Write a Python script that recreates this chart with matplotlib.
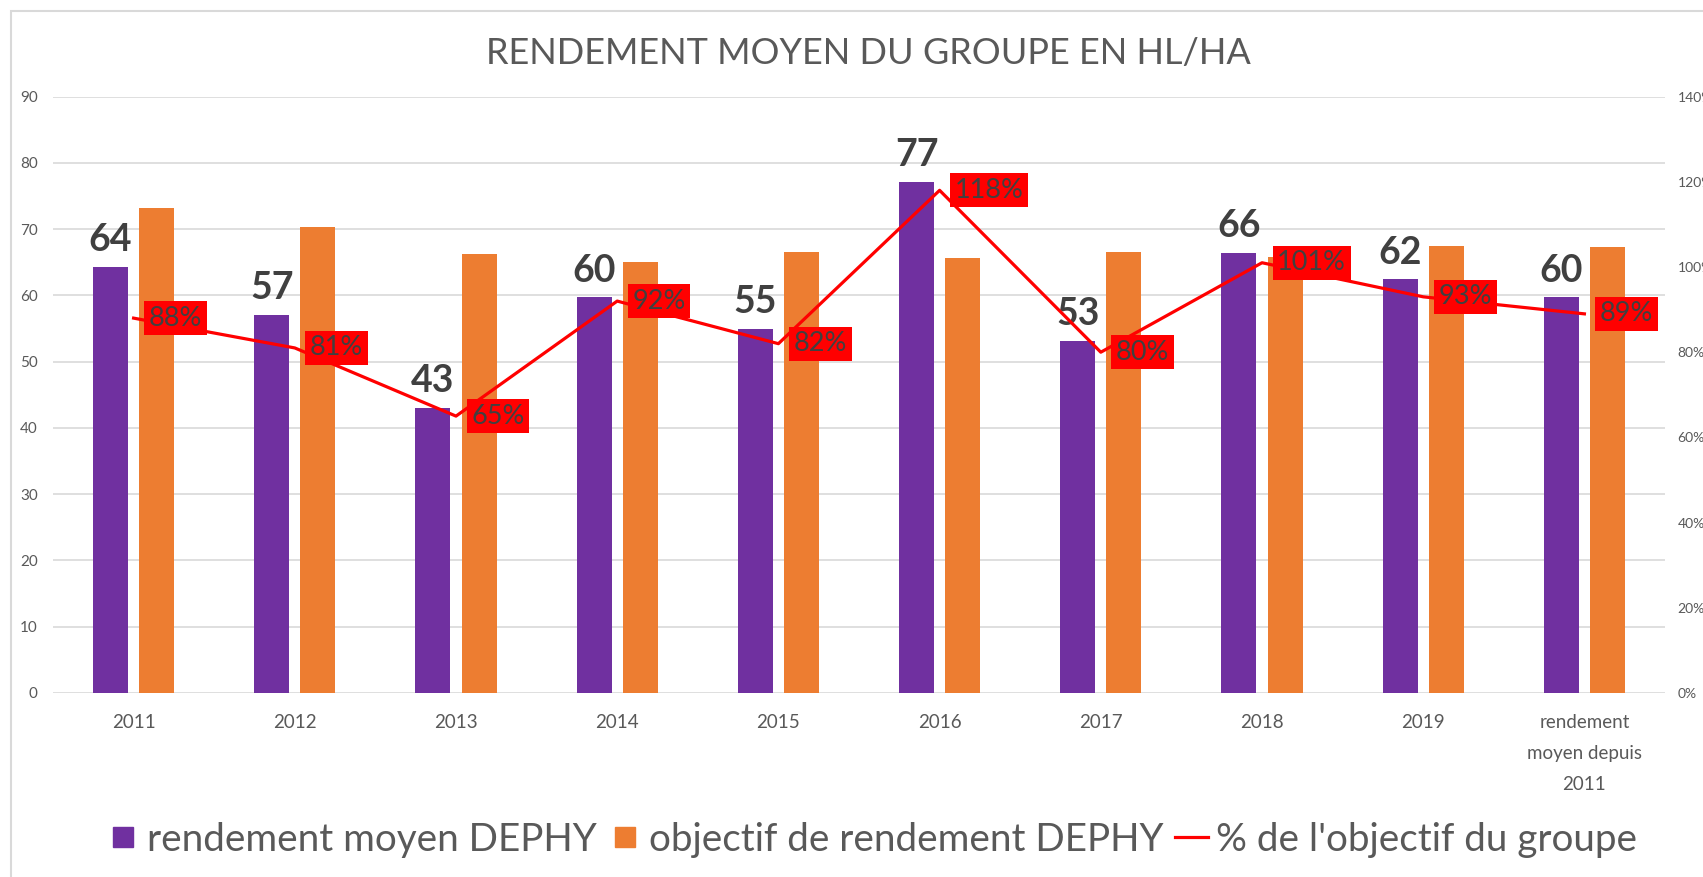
import matplotlib
matplotlib.use('Agg')
import matplotlib.pyplot as plt
from matplotlib.patches import Rectangle
from matplotlib.lines import Line2D
from matplotlib.ticker import PercentFormatter
import numpy as np

# ---- data ----
categories = ['2011', '2012', '2013', '2014', '2015', '2016', '2017', '2018', '2019',
              'rendement\nmoyen depuis\n2011']
rendement = [64.3, 57.1, 43.0, 59.7, 54.9, 77.1, 53.1, 66.4, 62.4, 59.7]
objectif = [73.2, 70.3, 66.2, 65.1, 66.6, 65.6, 66.5, 65.8, 67.4, 67.3]
pct_objectif = [0.88, 0.81, 0.65, 0.92, 0.82, 1.18, 0.80, 1.01, 0.93, 0.89]
left_ticks = list(range(0, 91, 10))
right_ticks = [0, 0.2, 0.4, 0.6, 0.8, 1.0, 1.2, 1.4]
series_names = ['rendement moyen DEPHY', 'objectif de rendement DEPHY',
                "% de l'objectif du groupe"]
title = 'RENDEMENT MOYEN DU GROUPE EN HL/HA'

PURPLE = '#7030A0'
ORANGE = '#ED7D31'
RED = '#FF0000'
GRID = '#D9D9D9'
TXT = '#595959'
DARK = '#404040'

plt.rcParams['font.family'] = ['Lato', 'DejaVu Sans']

W, H = 1703, 877
fig = plt.figure(figsize=(W / 100, H / 100), dpi=100)
ax = fig.add_axes([53 / W, 1 - 693 / H, (1665 - 53) / W, (693 - 96.6) / H])

x = np.arange(len(categories))
off = 0.143
bw = 0.217
ax.bar(x - off, rendement, bw, color=PURPLE, zorder=2)
ax.bar(x + off, objectif, bw, color=ORANGE, zorder=2)

ax.set_xlim(-0.5, len(categories) - 0.5)
ax.set_ylim(0, 90)
ax.set_yticks(left_ticks)
ax.grid(axis='y', color=GRID, lw=1.2, zorder=0)
ax.set_axisbelow(True)
for s in ax.spines.values():
    s.set_visible(False)
ax.tick_params(axis='y', length=0, labelsize=11, labelcolor=TXT, pad=11)
ax.set_xticks(x)
ax.set_xticklabels(categories, fontsize=13.5, color=TXT, linespacing=2.0, va='top')
ax.tick_params(axis='x', length=0, pad=15)

for xi, v in zip(x, rendement):
    ax.annotate(f'{round(v)}', (xi - off, v), xytext=(0, 7), textcoords='offset points',
                ha='center', va='bottom', fontsize=27, fontweight='bold', color=DARK)

ax2 = ax.twinx()
ax2.set_ylim(0, 1.4)
ax2.set_yticks(right_ticks)
ax2.yaxis.set_major_formatter(PercentFormatter(1.0, decimals=0))
for s in ax2.spines.values():
    s.set_visible(False)
ax2.tick_params(axis='y', length=0, labelsize=10, labelcolor=TXT, pad=9)
ax2.plot(x, pct_objectif, color=RED, lw=2.3, zorder=3)
for xi, p in zip(x, pct_objectif):
    ax2.annotate(f'{round(p * 100)}%', (xi, p), xytext=(11, 0), textcoords='offset points',
                 ha='left', va='center', fontsize=19.5, color=DARK, zorder=4,
                 bbox=dict(boxstyle='square,pad=0.17', fc=RED, ec='none'))

fig.text(0.51, 1 - 53 / H, title, ha='center', va='center', fontsize=26,
         color=TXT)

handles = [Line2D([], [], marker='s', ls='none', markersize=14, color=PURPLE),
           Line2D([], [], marker='s', ls='none', markersize=14, color=ORANGE),
           Line2D([], [], color=RED, lw=2.3)]
fig.legend(handles, series_names, loc='center', bbox_to_anchor=(0.512, 1 - 840 / H),
           ncol=3, frameon=False, fontsize=27.8, handlelength=0.85, handletextpad=0.2,
           columnspacing=0.3, labelcolor=TXT, borderpad=0)

fig.patches.append(Rectangle((11 / W, -0.05), 1.1, 1.05 - 11 / H, transform=fig.transFigure,
                             fill=False, ec=GRID, lw=1.5, zorder=0))

fig.savefig('out.png', dpi=100)
